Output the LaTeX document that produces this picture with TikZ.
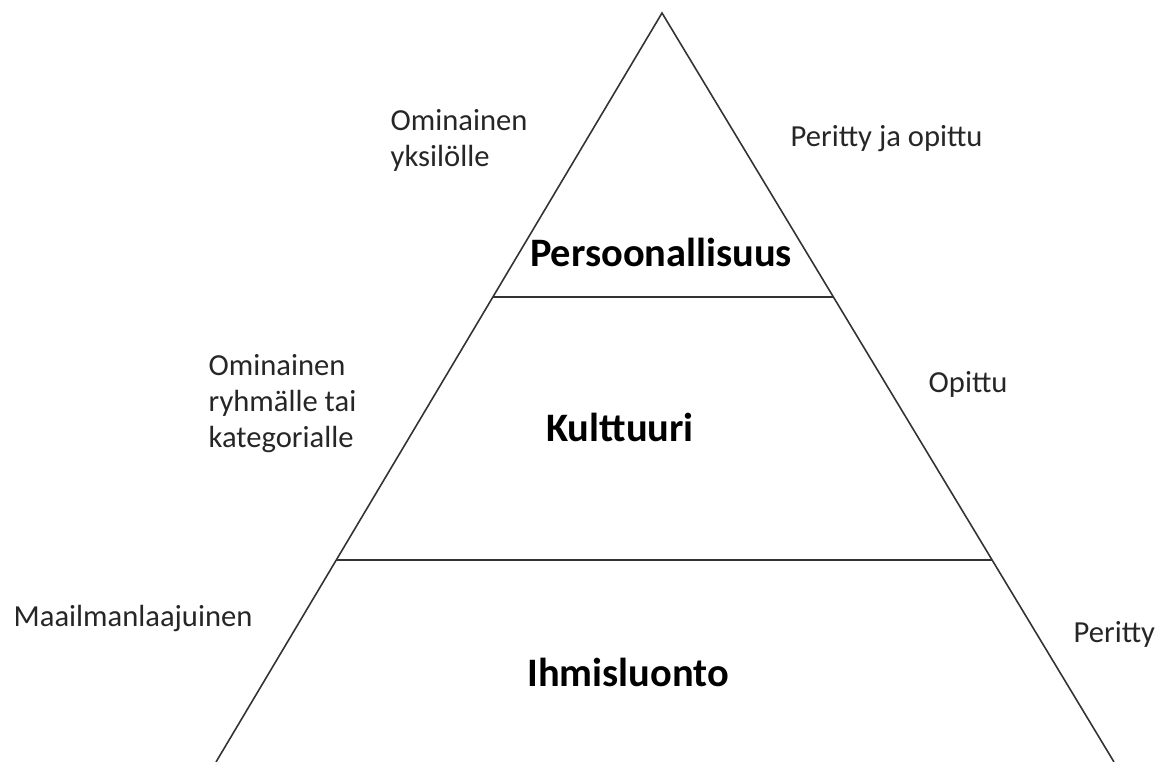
\documentclass[tikz,border=0pt]{standalone}
\usepackage{fontspec}
\setmainfont{Carlito}
\usetikzlibrary{calc, positioning}
\tikzset{
    layer/.style={font=\fontsize{11.5}{14}\selectfont\bfseries, inner sep=0pt, anchor=base},
    side/.style={font=\fontsize{8.7}{10.25}\selectfont, align=left, inner sep=0pt, text=black!85},
    edge/.style={draw=black!80, line width=0.45pt},
}

\begin{document}
\begin{tikzpicture}[x=0.01cm, y=-0.01cm]
  \useasboundingbox (0,0) rectangle (1158,762);

  % corners of the pyramid
  \coordinate (top) at (662,13);
  \coordinate (bl) at (216,762);
  \coordinate (br) at (1114,762);
  \coordinate (l1) at ($(top)!0.379!(bl)$);
  \coordinate (r1) at ($(top)!0.379!(br)$);
  \coordinate (l2) at ($(top)!0.730!(bl)$);
  \coordinate (r2) at ($(top)!0.730!(br)$);

  \draw[edge] (bl) -- (top) -- (br);
  \draw[edge] (l1) -- (r1);
  \draw[edge] (l2) -- (r2);

  % layers
  \node[layer] (pers) at (661,267) {Persoonallisuus};
  \node[layer] (kult) at (620,442) {Kulttuuri};
  \node[layer] (ihmi) at (628,687) {Ihmisluonto};

  % left side
  \node[side, anchor=north west] (omyks) at (390,109) {Ominainen\\yksilölle};
  \node[side, anchor=north west] (omryh) at (208,354) {Ominainen\\ryhmälle tai\\kategorialle};
  \node[side, anchor=base west] (maail) at (13,627) {Maailmanlaajuinen};

  % right side
  \node[side, anchor=base west] (perop) at (790,147) {Peritty ja opittu};
  \node[side, anchor=base west] (opit) at (928,393) {Opittu};
  \node[side, anchor=base west] (perit) at (1073,643) {Peritty};
\end{tikzpicture}
\end{document}
